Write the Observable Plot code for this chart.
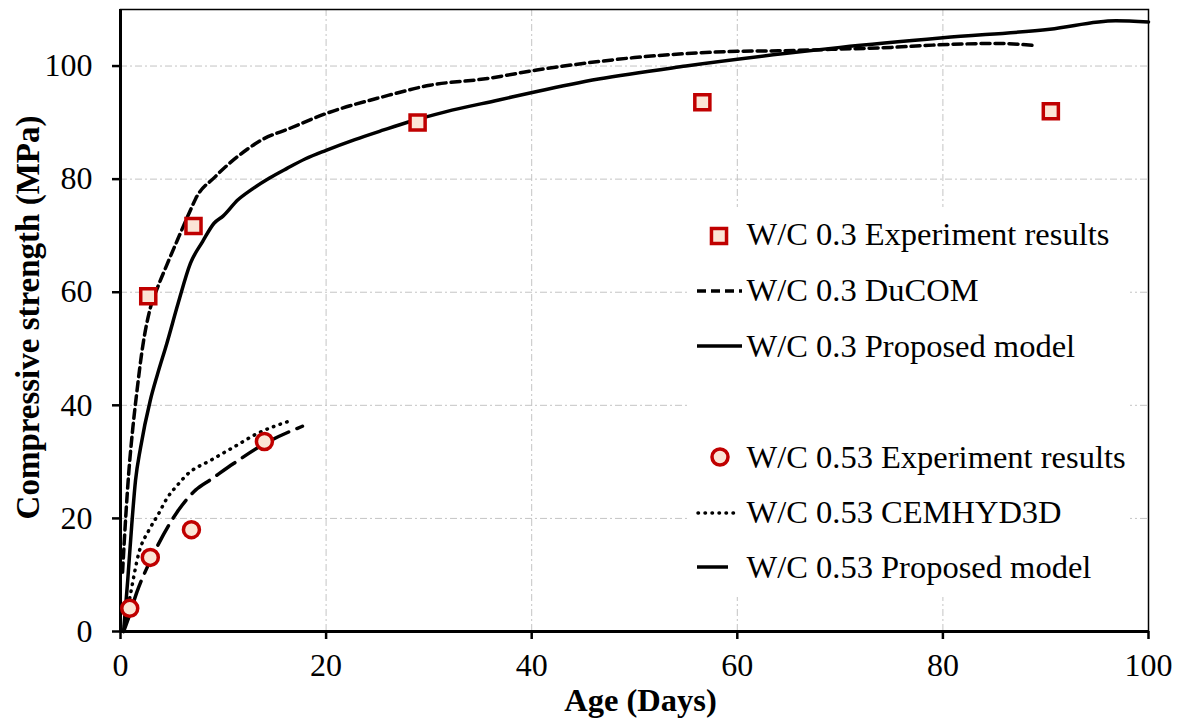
<!DOCTYPE html>
<html>
<head>
<meta charset="utf-8">
<script src="https://cdn.jsdelivr.net/npm/d3@7"></script>
<script src="https://cdn.jsdelivr.net/npm/@observablehq/plot@0.6"></script>
<style>
  html, body { margin: 0; padding: 0; background: #fff; }
</style>
</head>
<body>
<div id="chart"></div>
<script>
// ---------- data ----------
const xTicks = [0, 20, 40, 60, 80, 100];
const yTicks = [0, 20, 40, 60, 80, 100];

const w03ExpAge = [2.7, 7.1, 28.9, 56.6, 90.5];
const w03ExpStr = [59.3, 71.7, 90.0, 93.6, 92.0];

const w053ExpAge = [0.9, 2.9, 6.9, 14.0];
const w053ExpStr = [4.1, 13.1, 18.0, 33.6];

const ducomAge = [0.2, 0.5, 0.8, 1.2, 1.6, 2.1, 2.9, 3.6, 4.5, 5.6, 6.8, 7.3, 9.2, 11.4, 13.7, 16.5, 20, 25.6, 30.1, 35.7, 40.5, 46.5, 50, 55, 60, 64, 70, 75, 79, 85.4, 89.1];
const ducomStr = [10.5, 20, 28, 36, 42.5, 49.7, 57.2, 60.8, 64.8, 69.5, 74.5, 76.5, 80.4, 84, 86.9, 89, 91.6, 94.6, 96.6, 97.8, 99.3, 100.8, 101.5, 102.2, 102.6, 102.7, 103, 103.3, 103.7, 104.0, 103.6];

const prop03Age = [0.3, 0.7, 1.1, 1.46, 1.95, 2.9, 3.6, 4.5, 5.6, 6.8, 8, 9.1, 10, 11.4, 12.7, 14.5, 16.2, 18, 20, 22.8, 25.6, 28, 31.6, 36.8, 40.5, 46.5, 55, 64.6, 70, 80, 90.4, 96.8, 100];
const prop03Str = [0, 9, 19, 26.7, 32.5, 40.9, 45.5, 50.9, 58, 65.1, 69, 72.2, 73.5, 76.3, 78.1, 80.2, 81.9, 83.6, 85.1, 87, 88.7, 90.1, 91.9, 94, 95.5, 97.7, 100, 102.2, 103.3, 105, 106.5, 108, 107.8];

const cemAge = [0.4, 0.97, 1.8, 2.76, 3.7, 4.5, 5.5, 6.5, 8.8, 11, 13.3, 16.6];
const cemStr = [1, 6.6, 14, 17.9, 20.8, 23.5, 25.8, 27.8, 30.3, 32.6, 35, 37.3];

const prop053Age = [0.3, 0.8, 1.6, 2.76, 3.7, 4.7, 5.5, 7.3, 8.8, 11, 14, 17.7];
const prop053Str = [0, 2.5, 7, 12, 15.5, 18.8, 21.1, 25, 26.9, 29.7, 33.2, 36.3];

const legendLabels = [
  "W/C 0.3 Experiment results",
  "W/C 0.3 DuCOM",
  "W/C 0.3 Proposed model",
  "W/C 0.53 Experiment results",
  "W/C 0.53 CEMHYD3D",
  "W/C 0.53 Proposed model"
];
const xLabel = "Age (Days)";
const yLabel = "Compressive strength (MPa)";

// ---------- build tables ----------
const zip = (xs, ys) => xs.map((x, i) => ({x, y: ys[i]}));
const w03Exp = zip(w03ExpAge, w03ExpStr);
const w053Exp = zip(w053ExpAge, w053ExpStr);
const ducom = zip(ducomAge, ducomStr);
const prop03 = zip(prop03Age, prop03Str);
const cem = zip(cemAge, cemStr);
const prop053 = zip(prop053Age, prop053Str);

const FONT = "'Liberation Serif', 'Times New Roman', Times, serif";
const RED = "#c00000";
const FILL = "#fbe5d6";
const GRID = "#c4c4c4";
const DASH = "9,5";
const DOT = "0.5,6.5";
const LONG = "22,9";

const chart = Plot.plot({
  width: 1182,
  height: 722,
  marginLeft: 120,
  marginRight: 34,
  marginTop: 9,
  marginBottom: 91,
  style: {fontFamily: FONT, fontSize: "32px", color: "#000", background: "#fff"},
  x: {domain: [0, 100], ticks: xTicks},
  y: {domain: [0, 110], ticks: yTicks},
  marks: [
    Plot.gridX(xTicks.filter(v => v > 0 && v < 100), {stroke: GRID, strokeOpacity: 1, strokeWidth: 1, strokeDasharray: "7,3,2,3"}),
    Plot.gridY(yTicks.filter(v => v > 0), {stroke: GRID, strokeOpacity: 1, strokeWidth: 1, strokeDasharray: "7,3,2,3"}),
    Plot.frame({stroke: "#000", strokeWidth: 1.5}),
    Plot.axisX(xTicks, {tickSize: 8, tickPadding: 14, strokeWidth: 2.5, label: null, tickFormat: d => String(d)}),
    Plot.axisY(yTicks, {tickSize: 8, tickPadding: 20, strokeWidth: 2.5, label: null, tickFormat: d => String(d)}),
    Plot.ruleX([0], {stroke: "#000", strokeWidth: 3}),
    Plot.ruleY([0], {stroke: "#000", strokeWidth: 3}),
    Plot.line(ducom, {x: "x", y: "y", stroke: "#000", strokeWidth: 3.5, strokeDasharray: DASH, curve: "monotone-x"}),
    Plot.line(prop03, {x: "x", y: "y", stroke: "#000", strokeWidth: 3.5, curve: "monotone-x"}),
    Plot.line(cem, {x: "x", y: "y", stroke: "#000", strokeWidth: 3.5, strokeDasharray: DOT, strokeLinecap: "round", curve: "monotone-x"}),
    Plot.line(prop053, {x: "x", y: "y", stroke: "#000", strokeWidth: 3.5, strokeDasharray: LONG, curve: "monotone-x"}),
    Plot.dot(w03Exp, {x: "x", y: "y", symbol: "square", r: 8.5, fill: FILL, stroke: RED, strokeWidth: 3.5}),
    Plot.dot(w053Exp, {x: "x", y: "y", symbol: "circle", r: 8, fill: FILL, stroke: RED, strokeWidth: 3.5}),
    Plot.text([xLabel], {text: d => d, frameAnchor: "bottom", dy: 79, dx: 6, fontWeight: "bold", fontSize: 32.5}),
    Plot.text([yLabel], {text: d => d, frameAnchor: "left", textAnchor: "middle", rotate: -90, dx: -92, dy: -3, fontWeight: "bold", fontSize: 33})
  ]
});

document.getElementById("chart").appendChild(chart);

// ---------- legend (inside plot area) ----------
const svg = d3.select(chart);
const lg = svg.append("g")
  .style("font-family", FONT).style("font-size", "32.5px")
  .attr("text-anchor", "start");
lg.append("rect").attr("x", 690).attr("y", 207).attr("width", 440).attr("height", 390)
  .style("fill", "#ffffff").style("stroke", "none");
const baselines = [245, 301, 357, 468, 523, 578];
const textX = 746.5;
legendLabels.forEach((lab, i) => {
  lg.append("text").attr("x", textX).attr("y", baselines[i])
    .attr("text-anchor", "start").style("fill", "#000").text(lab);
});
// row 1: square marker
lg.append("path").attr("d", d3.symbol(d3.symbolSquare, Math.PI * 8.5 * 8.5)()).attr("transform", "translate(719,236)")
  .style("fill", FILL).style("stroke", RED).style("stroke-width", 3.5);
// row 2: dashed
lg.append("line").attr("x1", 697).attr("x2", 742).attr("y1", 291).attr("y2", 291)
  .style("stroke", "#000").style("stroke-width", 3.5).style("stroke-dasharray", DASH);
// row 3: solid
lg.append("line").attr("x1", 697).attr("x2", 742).attr("y1", 346).attr("y2", 346)
  .style("stroke", "#000").style("stroke-width", 3.5);
// row 4: circle marker
lg.append("circle").attr("cx", 720).attr("cy", 457).attr("r", 8)
  .style("fill", FILL).style("stroke", RED).style("stroke-width", 3.5);
// row 5: dotted
lg.append("line").attr("x1", 698).attr("x2", 735).attr("y1", 513).attr("y2", 513)
  .style("stroke", "#000").style("stroke-width", 3.5).style("stroke-dasharray", DOT).style("stroke-linecap", "round");
// row 6: long dash
lg.append("line").attr("x1", 697).attr("x2", 728).attr("y1", 567).attr("y2", 567)
  .style("stroke", "#000").style("stroke-width", 3.5);
</script>
</body>
</html>
